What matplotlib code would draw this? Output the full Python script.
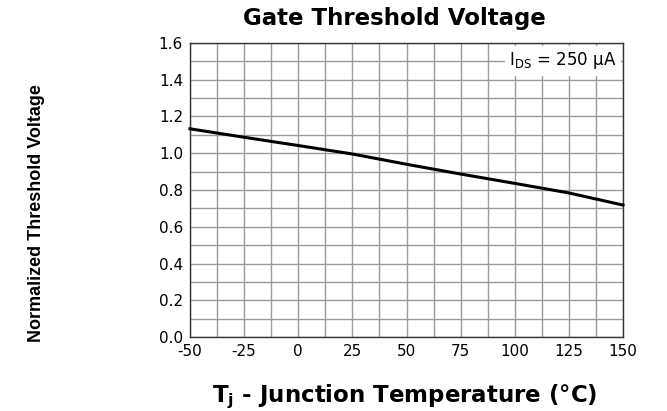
import matplotlib
matplotlib.use("Agg")
import matplotlib.pyplot as plt
import numpy as np

# Data
temperature = [-50, -25, 0, 25, 50, 75, 100, 125, 150]
norm_vth = [1.133, 1.087, 1.042, 0.996, 0.940, 0.887, 0.836, 0.784, 0.718]
x_ticks = [-50, -25, 0, 25, 50, 75, 100, 125, 150]
y_ticks = [0.0, 0.2, 0.4, 0.6, 0.8, 1.0, 1.2, 1.4, 1.6]

plt.rcParams['font.family'] = ['DejaVu Sans']
plt.rcParams['axes.unicode_minus'] = False

fig = plt.figure(figsize=(6.67, 4.11), dpi=100)
ax = fig.add_axes([190/667, 1-337/411, (623-190)/667, (337-43)/411])

ax.set_xlim(-50, 150)
ax.set_ylim(0, 1.6)
ax.set_xticks(x_ticks)
ax.set_yticks(y_ticks)
ax.set_xticks(np.arange(-50, 151, 12.5), minor=True)
ax.set_yticks(np.arange(0, 1.61, 0.1), minor=True)
ax.set_yticklabels([f"{v:.1f}" for v in y_ticks])
ax.grid(True, which='both', color='#9a9a9a', linewidth=1.0)
ax.tick_params(which='both', length=0, labelsize=11, pad=5, colors='black')
ax.tick_params(axis='x', pad=5)
for s in ax.spines.values():
    s.set_color('#333333')
    s.set_linewidth(1.0)
ax.set_axisbelow(True)

ax.plot(temperature, norm_vth, color='black', linewidth=2.2, clip_on=False, zorder=3)

ax.text(0.985, 0.975, r"I$_{\mathregular{DS}}$ = 250 $\mathregular{\mu}$A", transform=ax.transAxes,
        ha='right', va='top', fontsize=12,
        bbox=dict(facecolor='white', edgecolor='none', pad=3))

fig.text(394/667, 1-19/411, "Gate Threshold Voltage", ha='center', va='center',
         fontsize=16.5, fontweight='bold')
fig.text(37/667, 1-213/411, "Normalized Threshold Voltage", ha='center', va='center',
         rotation=90, fontsize=13, fontweight='bold', family='Liberation Sans')
fig.text(405/667, 1-402/411, r"T$_{\mathregular{j}}$ - Junction Temperature (°C)", ha='center', va='baseline',
         fontsize=16.5, fontweight='bold')

fig.savefig("out.png", dpi=100)
